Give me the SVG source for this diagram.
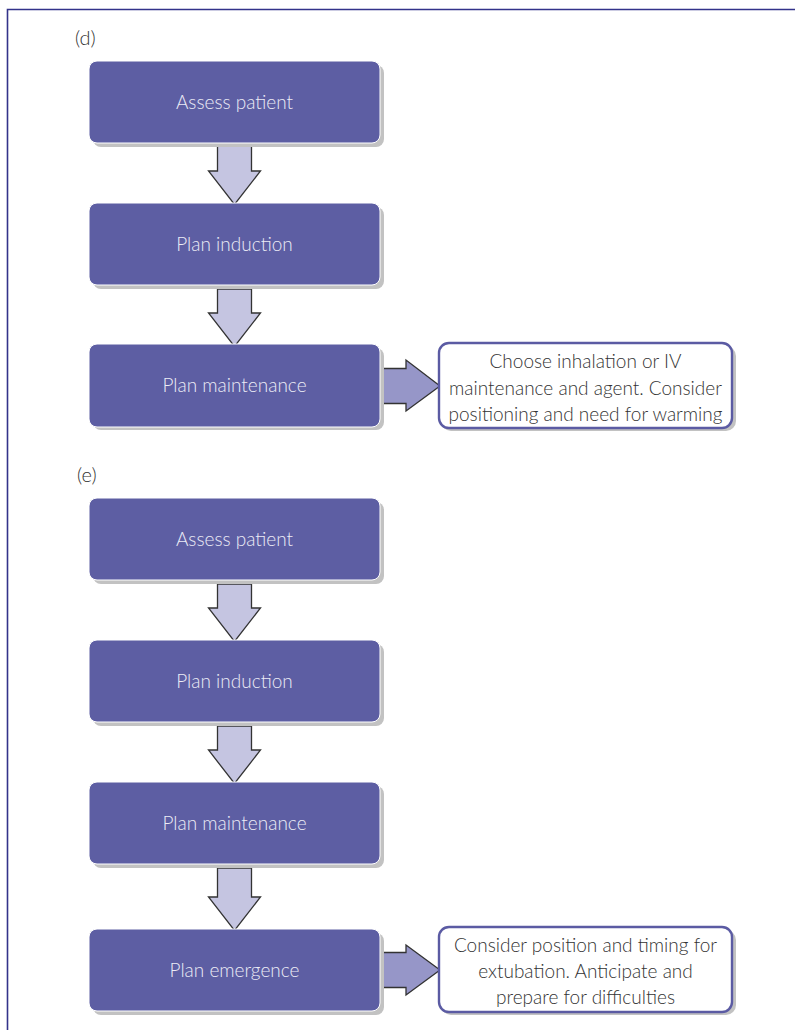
<svg xmlns="http://www.w3.org/2000/svg" width="795" height="1030" viewBox="0 0 795 1030">
  <style>
    .frame { stroke: #33338a; stroke-width: 1.6; fill: none; }
    .shadow { fill: #c2c2c2; }
    .step { fill: #5d5ea3; stroke: #ffffff; stroke-width: 1; }
    .step-label { font-family: Lato, "Open Sans", "Liberation Sans", sans-serif; font-weight: 300; font-size: 19px; fill: #ececf6; text-anchor: middle; }
    .note { fill: #ffffff; stroke: #5b5ba3; stroke-width: 2.4; }
    .note-label { font-family: Lato, "Open Sans", "Liberation Sans", sans-serif; font-weight: 300; font-size: 19px; fill: #333333; text-anchor: middle; }
    .tag { font-family: Lato, "Open Sans", "Liberation Sans", sans-serif; font-weight: 300; font-size: 20px; fill: #333333; }
    .down { fill: #c5c5e1; stroke: #333333; stroke-width: 1.3; stroke-linejoin: miter; }
    .side { fill: #9696c8; stroke: #333333; stroke-width: 1.3; stroke-linejoin: miter; }
  </style>

  <!-- page frame: top rule and left rule -->
  <path class="frame" d="M7.5 1030 V9.5 H795"/>

  <text class="tag" x="75" y="45">(d)</text>
  <text class="tag" x="77" y="482">(e)</text>

  <!-- connectors -->
  <g id="connectors">
    <!-- (d) -->
    <path class="down" d="M217.5 146 H251.5 V171 H260.5 L234.5 204.5 L208.5 171 H217.5 Z"/>
    <path class="down" d="M217.5 289 H251.5 V313 H260.5 L234.5 346.5 L208.5 313 H217.5 Z"/>
    <path class="side" d="M384 368.5 H406 V360 L440 386 L406 411 V403.5 H384"/>
    <!-- (e) -->
    <path class="down" d="M217.5 584 H251.5 V608 H260.5 L234.5 641.5 L208.5 608 H217.5 Z"/>
    <path class="down" d="M217.5 726 H251.5 V750 H260.5 L234.5 783.5 L208.5 750 H217.5 Z"/>
    <path class="down" d="M217.5 868 H251.5 V897 H260.5 L234.5 930.5 L208.5 897 H217.5 Z"/>
    <path class="side" d="M384 952.5 H406 V945 L440 970 L406 995 V987.5 H384"/>
  </g>

  <!-- (d) steps -->
  <g id="d-assess">
    <rect class="shadow" x="93" y="65" width="291" height="82" rx="8"/>
    <rect class="step" x="89" y="61" width="291" height="82" rx="8"/>
    <text class="step-label" x="234.5" y="109">Assess patient</text>
  </g>
  <g id="d-induction">
    <rect class="shadow" x="93" y="207" width="291" height="82" rx="8"/>
    <rect class="step" x="89" y="203" width="291" height="82" rx="8"/>
    <text class="step-label" x="234.5" y="251">Plan induction</text>
  </g>
  <g id="d-maintenance">
    <rect class="shadow" x="93" y="348" width="291" height="82" rx="8"/>
    <rect class="step" x="89" y="344" width="291" height="83" rx="8"/>
    <text class="step-label" x="234.5" y="392">Plan maintenance</text>
  </g>
  <g id="d-maintenance-note">
    <rect class="shadow" x="441" y="346" width="295" height="85" rx="10"/>
    <rect class="note" x="439" y="343" width="293" height="85" rx="10"/>
    <text class="note-label" x="585.5" y="368">Choose inhalation or IV</text>
    <text class="note-label" x="585.5" y="395">maintenance and agent. Consider</text>
    <text class="note-label" x="585.5" y="421">positioning and need for warming</text>
  </g>

  <!-- (e) steps -->
  <g id="e-assess">
    <rect class="shadow" x="93" y="502" width="291" height="82" rx="8"/>
    <rect class="step" x="89" y="498" width="291" height="82" rx="8"/>
    <text class="step-label" x="234.5" y="546">Assess patient</text>
  </g>
  <g id="e-induction">
    <rect class="shadow" x="93" y="644" width="291" height="82" rx="8"/>
    <rect class="step" x="89" y="640" width="291" height="82" rx="8"/>
    <text class="step-label" x="234.5" y="688">Plan induction</text>
  </g>
  <g id="e-maintenance">
    <rect class="shadow" x="93" y="786" width="291" height="82" rx="8"/>
    <rect class="step" x="89" y="782" width="291" height="82" rx="8"/>
    <text class="step-label" x="234.5" y="830">Plan maintenance</text>
  </g>
  <g id="e-emergence">
    <rect class="shadow" x="93" y="933" width="291" height="82" rx="8"/>
    <rect class="step" x="89" y="929" width="291" height="82" rx="8"/>
    <text class="step-label" x="234.5" y="977">Plan emergence</text>
  </g>
  <g id="e-emergence-note">
    <rect class="shadow" x="441" y="930" width="295" height="85" rx="10"/>
    <rect class="note" x="439" y="927" width="293" height="85" rx="10"/>
    <text class="note-label" x="585.5" y="952">Consider position and timing for</text>
    <text class="note-label" x="585.5" y="978">extubation. Anticipate and</text>
    <text class="note-label" x="585.5" y="1004">prepare for difficulties</text>
  </g>
</svg>
